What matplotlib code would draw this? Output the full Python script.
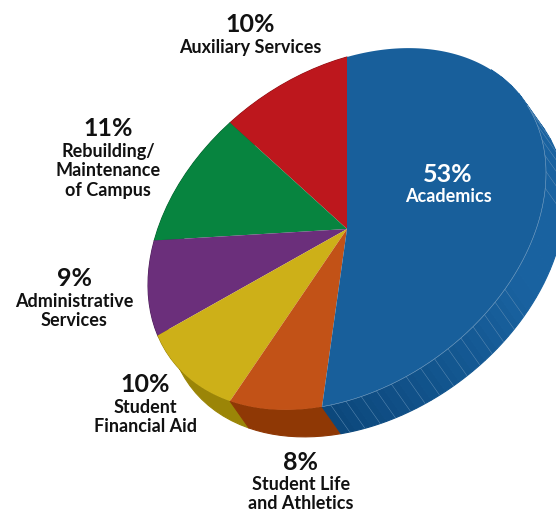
#!/usr/bin/python3
"""
Tilted pie chart of spending shares, drawn with a sheared circle and a side wall
"""
import numpy as np
import matplotlib
matplotlib.use('Agg')
import matplotlib.pyplot as plt
from matplotlib.patches import Polygon

# slices run counter-clockwise from the top of the pie
percents = [10, 11, 9, 10, 8, 53]
names = ['Auxiliary Services', 'Rebuilding/\nMaintenance\nof Campus',
         'Administrative\nServices', 'Student\nFinancial Aid',
         'Student Life\nand Athletics', 'Academics']
top_colors = ['#bd171d', '#07843f', '#6b2f7b', '#cdb018', '#c25217', '#185f9b']
wall_colors = ['#8c1014', '#055f2d', '#4c2058', '#9b8507', '#8f3805', None]
name_pos = [(250, 47), (108, 171), (74, 311), (145, 417), (301, 494), (448, 197)]
pct_pos = [(250, 24), (108, 128), (74, 278), (145, 384), (301, 462), (448, 174)]
text_colors = ['#111111'] * 5 + ['white']

CENTER = np.array([347.0, 229.0])
AXIS_A = np.array([199.0, -56.0])
AXIS_B = np.array([0.0, -172.0])
DEPTH = np.array([19.0, 27.0])
BLUE_DARK = np.array([0x0c, 0x48, 0x7c]) / 255
BLUE_MAIN = np.array([0x19, 0x62, 0xa0]) / 255


def rim(theta_deg):
    """Map pie angles (degrees) onto the rim of the tilted top face."""
    t = np.radians(theta_deg)
    return CENTER + np.outer(np.cos(t), AXIS_A) + np.outer(np.sin(t), AXIS_B)


def wall(ax, t1, t2, color):
    """Draw one piece of the side wall between two pie angles."""
    arc = rim(np.linspace(t1, t2, 12))
    ax.add_patch(Polygon(np.vstack([arc, arc[::-1] + DEPTH]), closed=True,
                         facecolor=color, edgecolor=color, lw=0.8, zorder=1))


fig = plt.figure(figsize=(5.56, 5.15), dpi=100)
ax = fig.add_axes([0, 0, 1, 1])
ax.set_xlim(0, 556)
ax.set_ylim(515, 0)
ax.axis('off')

edges = 90 + 3.6 * np.cumsum([0] + percents)
edges[-1] = 450  # the printed shares add up to 101

for i in range(len(percents)):
    t1, t2 = edges[i], edges[i + 1]
    if wall_colors[i] is not None:
        wall(ax, t1, t2, wall_colors[i])
    else:
        # Academics wall gets lighter towards the right
        steps = np.arange(t1, 405.0, 4.4)
        for a, b in zip(steps[:-1], steps[1:]):
            frac = min((a - t1) / 63.0, 1)
            wall(ax, a, b, BLUE_DARK + (BLUE_MAIN - BLUE_DARK) * frac)
        seams = np.concatenate([np.arange(t1 + 2.5, 326.0, 4.4),
                                np.arange(355.0, 395.0, 5.5)])
        for s in rim(seams):
            ax.plot([s[0], s[0] + DEPTH[0]], [s[1], s[1] + DEPTH[1]],
                    color='#5f8db5', lw=0.35, zorder=1.5)
    arc = rim(np.linspace(t1, t2, 160))
    ax.add_patch(Polygon(np.vstack([CENTER, arc]), closed=True,
                         facecolor=top_colors[i], edgecolor='none', zorder=2))

# pale seam along the front of the top face
seam_line = rim(np.linspace(edges[-2], 385, 200))
ax.plot(seam_line[:, 0], seam_line[:, 1], color='#7fa5c6', lw=0.4, zorder=3)

for pct, name, p1, p2, col in zip(percents, names, name_pos, pct_pos, text_colors):
    ax.text(p1[0], p1[1], name, ha='center', va='center', color=col, family='Lato',
            weight='bold', fontsize=13, linespacing=1.2, zorder=4)
    ax.text(p2[0], p2[1], f'{pct}%', ha='center', va='center', color=col,
            family='Lato', weight='bold', fontsize=18, zorder=4)

fig.savefig('out.png', dpi=100)
